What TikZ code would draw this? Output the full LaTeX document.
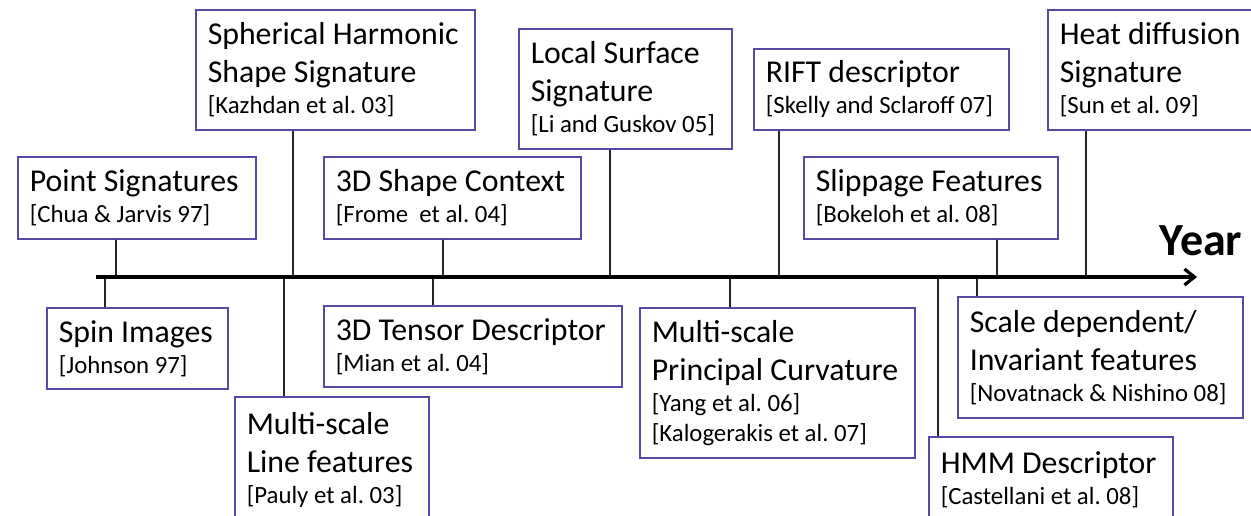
\documentclass[tikz,border=0pt]{standalone}
\usepackage{fontspec}
\setmainfont{Carlito}
\usetikzlibrary{arrows.meta}
\definecolor{BoxViolet}{RGB}{84, 74, 166}
\newcommand{\refcite}[1]{\mbox{\fontsize{12.4}{19}\selectfont #1}}

\begin{document}
\begin{tikzpicture}[x=0.5pt, y=-0.5pt,
    every node/.style={font=\fontsize{15.9}{19}\selectfont},
    evbox/.style={draw=BoxViolet, line width=0.75pt, fill=white, align=left,
                  anchor=north west, inner xsep=6pt, inner ysep=2pt,
                  execute at begin node={\frenchspacing\spaceskip=0pt\xspaceskip=0pt}},
    tick/.style={line width=0.6pt, draw=black!85},
    axis/.style={line width=1.6pt, -{Straight Barb[length=5pt, width=8pt]}},
    yearlbl/.style={font=\fontsize{23}{27}\selectfont\bfseries, anchor=base}]
\useasboundingbox (0,0) rectangle (1251,515);

\node[evbox, text width=107pt, minimum height=41pt] (pointsig) at (17,156)
    {Point Signatures\\[-3.5pt]\refcite{[Chua \& Jarvis 97]}};
\node[evbox, text width=127.5pt, minimum height=60pt] (sphharm) at (195,9)
    {Spherical Harmonic\\Shape Signature\\[-3.5pt]\refcite{[Kazhdan et al. 03]}};
\node[evbox, text width=116.5pt, minimum height=41pt] (shapectx) at (323,156)
    {3D Shape Context\\[-3.5pt]\refcite{[Frome~ et al. 04]}};
\node[evbox, text width=94.5pt, minimum height=60pt] (localsurf) at (518,28)
    {Local Surface\\Signature\\[-3.5pt]\refcite{[Li and Guskov 05]}};
\node[evbox, text width=115.5pt, minimum height=40.5pt] (rift) at (753,48)
    {RIFT descriptor\\[-3.5pt]\refcite{[Skelly and Sclaroff 07]}};
\node[evbox, text width=115pt, minimum height=41pt] (slippage) at (803,156)
    {Slippage Features\\[-3.5pt]\refcite{[Bokeloh et al. 08]}};
\node[evbox, text width=95.5pt, minimum height=60pt] (heatdiff) at (1047,9)
    {Heat diffusion\\Signature\\[-3.5pt]\refcite{[Sun et al. 09]}};

\node[evbox, text width=78.5pt, minimum height=40.5pt] (spin) at (46,307)
    {Spin Images\\[-3.5pt]\refcite{[Johnson 97]}};
\node[evbox, text width=85pt, minimum height=63pt] (multiline) at (234,396)
    {Multi-scale\\Line features\\[-3.5pt]\refcite{[Pauly et al. 03]}};
\node[evbox, text width=137pt, minimum height=40.5pt] (tensor) at (323,305)
    {3D Tensor Descriptor\\[-3.5pt]\refcite{[Mian et al. 04]}};
\node[evbox, text width=125.5pt, minimum height=75pt] (princurv) at (639,307)
    {Multi-scale\\Principal Curvature\\[-3.5pt]\refcite{[Yang et al. 06]}\\[-4pt]\refcite{[Kalogerakis et al. 07]}};
\node[evbox, text width=130.5pt, minimum height=60.5pt] (scaledep) at (957,296)
    {Scale dependent/\\Invariant features\\[-3.5pt]\refcite{[Novatnack \& Nishino 08]}};
\node[evbox, text width=110pt, minimum height=43pt] (hmm) at (928,436)
    {HMM Descriptor\\[-3.5pt]\refcite{[Castellani et al. 08]}};

\node[yearlbl] (year) at (1201,255) {Year};

\foreach \n/\x in {pointsig/116, sphharm/293, shapectx/443, localsurf/610,
                   rift/779, slippage/997, heatdiff/1086, spin/105, multiline/284,
                   tensor/433, princurv/730, hmm/938, scaledep/977}
  \coordinate (\n-t) at (\x,277);
\coordinate (axstart) at (96,277);
\coordinate (axend) at (1197,277);

\foreach \n in {pointsig, sphharm, shapectx, localsurf, rift, slippage, heatdiff}
  \draw[tick] (\n.south -| \n-t) -- (\n-t);
\foreach \n in {spin, multiline, tensor, princurv, hmm, scaledep}
  \draw[tick] (\n-t) -- (\n.north -| \n-t);

\draw[axis] (axstart) -- (axend);
\end{tikzpicture}
\end{document}
